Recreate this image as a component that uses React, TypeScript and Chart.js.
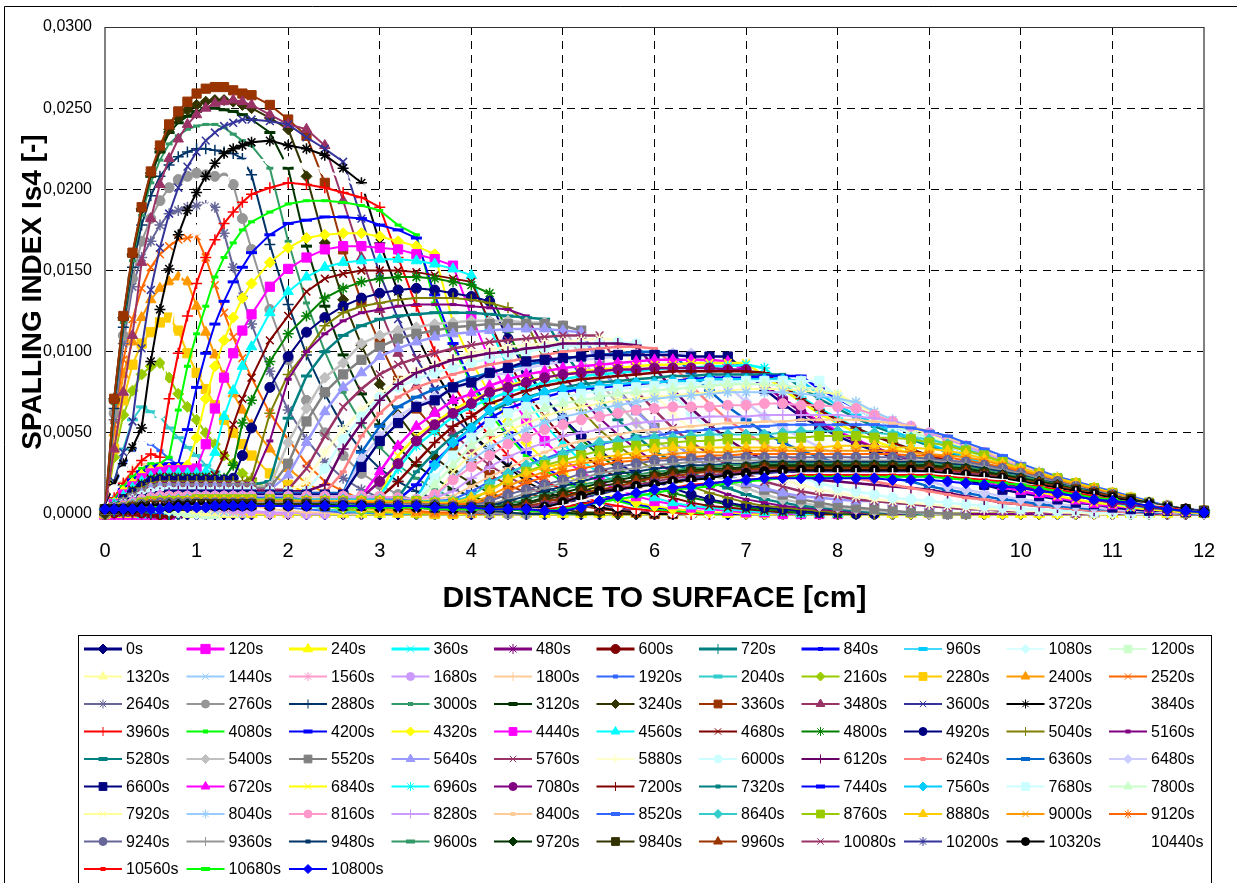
import React, { useEffect, useRef } from "react";
import { Chart, registerables } from "chart.js";
import { drawPoint } from "chart.js/helpers";

Chart.register(...registerables);

const xPositions = [0,0.1,0.2,0.3,0.4,0.5,0.6,0.7,0.8,0.9,1,1.1,1.2,1.3,1.4,1.5,
 1.6,1.8,2,2.2,2.4,2.6,2.8,3,3.2,3.4,3.6,3.8,4,4.2,4.4,4.6,4.8,
 5,5.2,5.4,5.6,5.8,6,6.2,6.4,6.6,6.8,7,7.2,7.4,7.6,7.8,8,
 8.2,8.4,8.6,8.8,9,9.2,9.4,9.6,9.8,10,10.2,10.4,10.6,10.8,11,11.2,11.4,11.6,11.8,12];

const xTicks = [0,1,2,3,4,5,6,7,8,9,10,11,12];
const yTicks = [0,0.005,0.01,0.015,0.02,0.025,0.03];

// values in units of 0.0001
const v0 = [0,0,0,0,0,0,0,0,0,0,0,0,0,0,0,0, 0,0,0,0,0,0,0,0,0,0,0,0,0,0,0,0,0, 0,0,0,0,0,0,0,0,0,0,0,0,0,0,0,0, 0,0,0,0,0,0,0,0,0,0,0,0,0,0,0,0,0,0,0,0];
const v120 = [0,0,0,0,0,0,0,0];
const v240 = [0,0,0,0,0,0,0,0,0,0,0,0,0,0,0,0, 0,0,0,0,0,0,0,0,0,0,0,0,0,0,0,0,0, 0,0,0,0,0,0,0,0,0,0,0,0,0,0,0,0, 0,0,0,0,0,0,0,0,0,0,0,0,0,0,0,0,0,0,0,0];
const v360 = [0,1,1,1,0,0,0,0,0];
const v480 = [0,1,1,1,1,0,0,0,0];
const v600 = [0,1,2,2,1,1,0,0];
const v720 = [0,2,2,3,2,1,1,0,0];
const v840 = [0,2,3,3,3,2,1,1,0,0];
const v960 = [0,2,4,4,4,3,2,1,1,0,0];
const v1080 = [0,3,4,5,5,4,3,2,1,1,0,0];
const v1200 = [0,3,5,6,6,5,4,3,2,1,1,0,0];
const v1320 = [0,4,6,8,8,7,6,5,4,3,2,1,1,0,0];
const v1440 = [0,5,8,10,10,10,8,7,6,5,4,3,2,1,1,0];
const v1560 = [0,6,10,13,14,13,12,10,8,7,6,5,4,3,2,1,1,0,0];
const v1680 = [0,8,14,18,20,19,17,15,13,11,9,8,6,5,4,3,2,1,1,0,0];
const v1800 = [0,11,20,27,31,28,25,22,19,16,14,12,10,8,7,6,5,3,2,1,1,0,0];
const v1920 = [0,15,29,38,44,43,39,34,30,26,22,19,16,14,12,10,8,6,4,3,2,1,1,0,0];
const v2040 = [0,20,40,58,66,63,60,53,47,41,36,30,26,22,19,16,14,10,7,5,3,2,1,1,0,0];
const v2160 = [0,35,61,76,86,91,93,84,74,66,58,50,43,36,31,25,21,15,11,8,5,3,2,1,1,0,0];
const v2280 = [0,40,70,92,105,112,118,121,113,99,87,77,67,58,50,43,36,25,18,13,9,6,4,2,1,1,0,0];
const v2400 = [0,50,86,106,121,132,139,143,146,143,128,112,98,85,74,64,55,40,28,19,13,8,5,3,2,1,0,0];
const v2520 = [0,55,95,120,139,152,160,165,169,170,171,158,141,124,109,96,84,62,46,31,20,14,9,6,4,2,1,1,0,0];
const v2640 = [0,58,105,140,158,168,178,185,187,189,190,190,189,173,152,134,117,88,64,46,32,22,15,10,7,4,3,2,1,0,0];
const v2760 = [0,62,110,145,168,182,193,201,206,208,210,209,208,207,203,182,163,126,95,70,50,36,25,18,12,8,5,3,2,1,0,0];
const v2880 = [0,65,115,152,178,196,208,215,220,223,225,225,224,223,222,219,209,166,129,98,74,54,39,28,20,14,9,6,4,2,1,0,0];
const v3000 = [0,68,118,156,184,204,218,228,233,237,239,240,240,238,234,230,227,213,168,130,100,75,56,41,30,22,15,10,7,5,3,2,1,0,0];
const v3120 = [0,70,120,159,187,208,223,235,241,245,248,250,250,249,248,246,243,235,213,165,128,98,74,55,41,30,22,15,11,7,5,3,2,1,0,0];
const v3240 = [0,71,121,160,188,210,225,237,244,249,252,254,255,255,254,252,250,244,237,208,167,132,104,80,61,46,35,26,19,13,9,6,4,3,1,1,0,0];
const v3360 = [3,71,122,161,189,211,227,240,248,254,259,262,263,263,261,259,258,252,243,233,204,163,131,105,82,65,52,40,31,24,18,13,10,7,5,3,2,1,0,0];
const v3480 = [3,40,75,110,155,182,203,219,231,240,246,250,253,254,255,254,252,246,240,237,227,193,158,126,99,79,63,50,39,30,23,17,12,9,6,4,3,2,1,0,0];
const v3600 = [3,20,38,57,102,138,164,185,201,214,223,230,235,239,241,243,243,242,240,232,225,217,182,148,120,96,77,61,49,38,30,23,17,12,9,6,4,3,2,1,0,0];
const v3720 = [3,18,31,41,53,94,126,151,172,187,198,208,216,222,225,227,229,230,227,225,221,213,204,167,137,110,88,70,50,39,29,20,14,10,7,4,2,1,0,0];
const v3840 = [3,15,26,35,42,46,62,110,140,160,175,188,197,205,210,215,218,218,217,215,212,207,200,192,160,125,100,80,62,48,37,28,21,15,11,7,5,3,2,1,0,0];
const v3960 = [3,10,19,26,33,37,35,71,99,122,142,158,169,179,186,192,197,201,204,203,201,198,195,189,158,128,100,80,62,48,36,27,20,15,11,7,5,3,2,1,0,0];
const v4080 = [3,9,17,23,28,31,31,35,64,91,111,128,146,158,167,175,180,186,191,193,193,192,190,187,178,172,130,103,80,62,48,36,27,20,15,11,8,5,3,2,1,0,0];
const v4200 = [3,8,15,21,26,29,30,31,31,52,78,99,117,131,143,152,161,172,179,181,183,183,182,178,175,170,135,105,82,65,50,38,29,22,16,12,9,6,4,3,2,1,0,0];
const v4320 = [3,7,14,19,24,27,28,28,28,30,47,71,91,107,121,133, 142,155,164,170,172,173,173,171,168,165,160,118,94,74,57,44,33, 25,19,14,10,7,5,3,2,1,1,0,0,0,0,0,0, 0,0,0,0,0,0,0,0,0,0,0,0,0,0,0,0,0,0,0,0];
const v4440 = [3,6,12,17,22,25,26,27,27,27,28,43,65,84,99,113, 123,140,151,158,163,165,165,164,163,160,157,153,122,95,74,58,45, 34,26,20,15,11,8,6,4,3,2,1,1,0,0,0,0];
const v4560 = [3,6,11,16,20,23,24,25,25,25,25,26,38,60,76,91, 103,124,137,146,152,155,156,157,157,156,154,151,147,115,90,71,55, 43,33,25,19,14,10,7,5,4,3,2,1,1,0,0,0];
const v4680 = [3,5,10,15,19,22,23,23,23,23,23,23,24,36,55,71, 84,107,122,137,145,148,150,150,150,149,147,145,143,118,94,75,60, 47,37,29,22,17,13,10,7,5,4,3,2,1,1,0,0];
const v4800 = [3,5,9,14,18,21,22,22,22,22,22,22,22,22,30,56, 70,94,111,122,133,139,143,145,146,146,145,143,141,136,112,90,72, 58,46,36,28,22,17,13,10,8,6,4,3,2,1,1,0,0];
const v4920 = [3,4,9,13,17,20,21,21,21,21,21,21,21,21,22,36, 53,78,97,112,121,128,133,136,138,139,138,136,134,131,108,88,72, 59,48,39,31,25,20,16,12,9,7,5,4,3,2,1,1, 0,0];
const v5040 = [3,4,8,12,16,19,20,20,20,20,20,20,20,20,20,20, 22,62,86,100,116,124,128,130,132,133,133,133,132,130,127,118,95, 78,64,52,42,34,27,21,17,13,10,7,5,4,3,2,1, 1,0,0];
const v5160 = [3,4,8,12,15,18,19,19,19,19,19,19,19,19,19,19, 19,45,83,100,111,119,124,126,128,129,129,129,128,127,126,122,102, 86,71,59,49,40,32,26,21,16,12,9,7,5,4,3,2, 1,1,0,0,0,0,0,0,0,0,0,0,0,0,0,0,0,0,0,0];
const v5280 = [3,4,7,11,14,17,18,18,18,18,18,18,18,18,18,18, 18,20,59,85,100,110,116,120,122,123,124,124,124,123,122,121,120, 101,85,71,58,48,39,32,26,20,16,12,9,7,5,4, 3,2,1,1,0,0];
const v5400 = [3,4,7,10,13,16,17,17,17,17,17,17,17,17,17,17, 17,17,44,65,84,93,105,110,113,115,117,118,119,119,119,118,118, 116,96,81,68,56,46,38,31,25,20,16,12,9,7,5, 4,3,2,1,1,0,0];
const v5520 = [3,4,7,10,13,15,16,16,16,16,16,16,16,16,16,16, 16,16,31,57,75,86,95,103,108,111,113,115,116,117,117,117,117, 116,113,92,77,64,53,44,36,29,24,19,15,12,9,7,5, 4,3,2,1,1,0,0];
const v5640 = [3,4,6,9,12,15,16,16,16,16,16,16,16,16,15,15, 15,15,24,44,63,78,87,97,102,106,109,111,112,113,114,114,114, 113,112,91,76,63,53,44,36,30,24,19,16,13,11,10,9, 8,8,7,6,5,4,3,3,2,2,1,1,0,0];
const v5760 = [3,3,6,9,12,14,15,15,15,15,15,15,15,15,15,15, 15,15,15,28,48,66,77,86,92,96,99,102,104,106,107,108,109, 110,110,110,92,76,64,53,44,37,30,25,20,17,14,12,11, 9,8,7,6,5,4,3,3,2,2,1,1,0,0];
const v5880 = [3,3,6,9,11,13,14,14,14,14,14,14,14,14,14,14, 14,14,14,20,38,52,64,74,82,88,92,96,99,101,103,104,105, 106,107,108,107,88,74,62,52,43,36,30,25,21,18,15,13, 11,9,8,7,6,5,4,3,3,2,2,1,1,0,0];
const v6000 = [3,3,6,8,11,13,14,14,14,14,14,14,14,14,14,14, 14,14,14,14,28,46,60,72,78,83,87,90,93,96,98,100,102, 103,104,105,106,105,88,74,62,52,44,37,31,26,22,19,16, 14,12,10,9,8,7,6,5,4,3,3,2,2,1,1,0,0];
const v6120 = [3,3,6,8,10,12,13,13,14,14,14,14,14,14,14,14, 14,14,14,14,18,40,56,70,80,87,91,95,97,99,100,102,103, 105,105,105,105,104,90,77,65,55,46,39,33,28,24,21,20, 19,18,17,16,15,13,11,9,7,6,5,4,3,2,2,1,1,0,0,0];
const v6240 = [3,3,5,8,10,12,13,13,13,13,13,13,13,13,13,13, 13,13,13,13,13,26,48,62,72,78,82,86,89,92,94,96,98, 100,101,102,103,103,102,92,79,68,58,50,43,37,32,28,25, 22,20,18,16,14,12,10,9,7,6,5,4,3,2,2,1,1,0,0,0];
const v6360 = [3,3,5,7,10,11,12,12,12,12,13,13,13,13,13,13, 13,13,13,13,13,13,38,54,66,72,77,80,84,87,90,92,94, 96,97,98,99,100,100,99,87,76,66,58,50,44,39,35,31, 28,25,22,20,17,15,13,11,9,8,6,5,4,3,3,2,1,1,0,0];
const v6480 = [3,3,5,7,9,11,12,12,12,12,12,12,12,12,12,12, 12,12,12,12,12,12,34,48,60,67,72,77,81,85,87,90,92, 94,95,96,97,98,98,99,99,90,79,69,60,53,47,41,37, 33,29,26,23,20,17,15,13,11,9,8,6,5,4,3,2,2,1,1,0];
const v6600 = [3,3,5,7,9,10,11,12,12,12,12,12,12,12,12,12, 12,12,12,12,12,12,29,45,56,66,70,78,81,87,90,94,95, 96,97,98,98,98,98,98,97,97,97,88,77,68,60,54,48, 43,39,35,31,27,24,21,18,15,13,11,9,7,6,4,3,2,2,1,1];
const v6720 = [3,3,5,7,8,10,11,11,11,11,11,11,11,11,11,11, 11,11,11,11,11,11,11,26,42,54,62,70,74,79,83,86,88, 90,91,92,93,94,95,95,95,95,94,88,79,71,64,57,51, 46,41,37,33,29,26,23,20,17,14,12,10,8,6,5,4,3,2,1,1];
const v6840 = [3,3,5,6,8,10,10,11,11,11,11,11,11,11,11,11, 11,11,11,11,11,11,11,11,36,48,56,64,70,75,79,82,84, 86,88,89,90,91,92,92,93,93,93,93,85,77,69,62,56, 50,45,41,37,33,29,26,22,19,16,14,11,9,7,6,4,3,2,1,1];
const v6960 = [3,3,5,6,8,9,10,10,10,11,11,11,11,11,11,11, 11,11,11,11,11,11,11,11,28,42,51,60,66,71,75,78,81, 83,85,86,87,88,89,90,90,91,91,92,90,80,72,65,59, 53,48,44,40,36,32,28,25,22,19,16,13,11,9,7,5,4,3,2,1];
const v7080 = [3,3,5,6,8,9,10,10,10,10,10,10,10,10,10,10, 10,10,10,10,10,10,10,20,31,45,55,62,68,75,78,81,84, 86,87,88,89,89,90,90,90,90,89,89,80,71,63,56,50, 45,41,37,33,30,27,24,22,19,17,15,13,11,9,7,6,4,3,2,1];
const v7200 = [3,3,4,6,7,9,9,10,10,10,10,10,10,10,10,10, 10,10,10,10,10,10,10,10,20,32,44,54,60,68,72,76,79, 81,83,84,85,86,87,88,88,88,88,88,87,79,71,64,58, 53,48,44,40,36,33,30,27,24,21,18,15,13,11,9,7,5,3,2,1];
const v7320 = [3,3,4,6,7,8,9,9,9,10,10,10,10,10,10,10, 10,10,10,10,10,10,10,10,10,26,38,48,55,63,68,72,75, 78,80,81,82,83,84,85,85,86,86,86,86,86,78,71,65, 59,54,50,46,42,38,35,31,28,25,22,19,16,13,11,8,6,4,2,1];
const v7440 = [3,3,4,5,7,8,9,9,9,9,9,9,9,9,9,9, 9,9,9,9,9,9,9,9,9,18,32,43,50,59,65,69,72, 75,77,78,79,80,81,82,83,84,84,84,85,85,85,77,71, 65,59,54,50,46,42,38,35,31,28,24,21,18,15,12,9,6,4,3,2];
const v7560 = [3,3,4,5,7,8,8,9,9,9,9,9,9,9,9,9, 9,9,9,9,9,9,9,9,9,9,30,44,53,64,70,71,75, 77,78,79,80,81,81,82,82,83,83,83,83,83,82,74,67, 61,56,51,47,43,39,35,31,28,25,22,19,16,14,12,9,7,5,3,2];
const v7680 = [3,3,4,5,6,7,8,8,9,9,9,9,9,9,9,9, 9,9,9,9,9,9,9,9,9,9,22,36,47,56,62,66,70, 72,74,76,77,78,79,80,80,81,81,82,82,82,82,82,72, 65,59,54,50,46,42,38,34,30,27,24,20,17,15,12,9,7,5,3,2];
const v7800 = [3,3,4,5,6,7,8,8,8,8,8,8,8,8,8,8, 8,8,8,8,8,8,8,8,8,8,18,30,42,50,56,61,65, 68,70,72,74,75,76,77,78,79,80,80,80,79,78,77,73, 66,60,55,51,47,43,39,35,31,28,25,21,18,15,12,10,7,5,3,2];
const v7920 = [3,3,4,5,6,7,7,8,8,8,8,8,8,8,8,8, 8,8,8,8,8,8,8,8,8,8,10,26,37,45,51,56,60, 64,66,68,70,71,72,73,74,75,76,77,77,77,76,75,74, 68,62,57,53,49,45,40,36,32,29,26,22,19,16,13,10,7,5,3,2];
const v8040 = [3,3,4,5,6,6,7,7,8,8,8,8,8,8,8,8, 8,8,8,8,8,8,8,8,8,8,9,22,33,41,47,52,56, 60,62,65,67,69,71,72,73,74,75,75,75,75,74,73,71, 69,63,58,54,50,46,42,38,34,30,26,23,19,16,13,10,7,5,3,2];
const v8160 = [3,3,5,7,9,10,11,11,11,11,11,11,11,11,11,11, 11,11,11,11,11,11,11,11,10,9,12,21,29,36,43,47,52, 55,58,60,62,64,65,66,66,66,67,67,68,68,67,67,66, 65,61,57,54,50,46,42,38,33,29,25,22,19,16,13,10,7,5,3,2];
const v8280 = [3,3,5,7,9,10,10,10,10,11,11,11,11,11,11,11, 11,11,11,11,10,10,10,10,9,9,10,14,22,29,35,40,44, 48,50,52,54,56,57,58,59,60,60,60,61,61,61,61,61, 60,59,57,54,50,46,42,37,33,29,25,21,18,15,12,9,7,5,3,2];
const v8400 = [3,3,5,6,8,9,10,10,10,10,10,10,10,10,10,10, 10,10,10,10,10,9,9,9,9,9,9,11,17,23,28,34,38, 42,45,47,49,51,52,53,54,55,56,56,57,57,58,58,58, 58,57,56,54,51,47,43,39,34,30,26,22,19,16,13,10,7,5,3,2];
const v8520 = [3,3,4,6,8,9,9,9,9,10,10,10,10,10,10,10, 10,10,10,9,9,9,9,9,9,8,8,9,14,20,25,30,34, 38,41,43,45,47,48,50,51,52,53,54,54,55,55,55,55, 55,55,54,53,51,48,44,40,36,31,27,23,20,17,14,11,8,5,3,2];
const v8640 = [3,3,4,6,7,8,9,9,9,9,9,9,9,9,9,9, 9,9,9,9,9,9,9,9,8,8,8,8,11,19,25,30,33, 37,41,44,45,46,47,47,48,49,49,49,49,50,51,51,51, 50,50,49,47,46,43,40,36,32,27,24,21,18,15,12,9,7,5,3,2];
const v8760 = [3,3,4,5,7,8,8,8,8,8,9,9,9,9,9,9, 9,9,9,8,8,8,8,8,8,8,7,7,8,15,21,26,30, 33,36,39,41,42,43,44,45,45,46,46,46,47,47,48,48, 48,47,47,46,44,42,39,36,32,28,25,22,19,16,13,10,7,5,3,2];
const v8880 = [3,3,4,5,6,7,8,8,8,8,8,8,8,8,8,8, 8,8,8,8,8,8,8,8,7,7,7,7,10,14,21,25,29, 31,33,35,36,38,40,41,41,41,41,41,41,41,41,41,42, 42,42,41,41,40,39,37,34,31,28,25,22,19,16,13,10,7,5,3,2];
const v9000 = [3,3,4,5,6,7,7,7,7,8,8,8,8,8,8,8, 8,8,8,8,8,7,7,7,7,7,6,6,7,11,17,22,26, 29,31,33,34,35,36,37,38,38,38,39,39,39,39,39,39, 39,39,39,38,37,36,35,33,30,27,24,21,18,15,13,10,7,5,3,2];
const v9120 = [3,3,4,5,6,7,7,7,7,7,7,7,7,7,7,7, 7,7,7,7,7,7,7,7,6,6,6,6,6,9,14,19,23, 26,28,30,32,33,34,35,35,36,36,37,37,37,37,37,37, 37,37,37,36,36,35,33,31,29,26,23,20,17,15,12,9,7,5,3,2];
const v9240 = [3,3,4,5,6,6,7,7,7,7,7,7,7,7,7,7, 7,7,7,7,7,7,6,6,6,6,6,5,5,8,12,15,18, 21,25,27,29,31,33,33,34,34,35,35,35,35,35,35,35, 35,35,35,35,34,33,32,30,28,25,23,20,17,14,12,9,7,5,3,2];
const v9360 = [3,3,4,5,5,6,6,6,7,7,7,7,7,7,7,7, 7,7,7,6,6,6,6,6,6,5,5,5,5,6,9,13,16, 19,22,25,27,28,30,31,32,32,33,33,33,33,33,33,33, 33,33,33,33,33,32,31,29,27,25,22,19,17,14,12,9,7,5,3,2];
const v9480 = [3,3,3,4,5,6,6,6,6,6,6,6,6,6,6,6, 6,6,6,6,6,6,6,6,5,5,5,5,5,5,8,11,14, 17,20,23,25,26,28,29,30,30,31,31,32,32,32,32,32, 32,32,32,32,32,31,30,28,26,24,21,19,16,14,11,9,7,5,3,2];
const v9600 = [3,3,3,4,5,5,6,6,6,6,6,6,6,6,6,6, 6,6,6,6,6,6,5,5,5,5,5,5,4,4,6,9,12, 15,18,20,23,24,26,27,28,29,30,30,31,31,31,31,31, 31,31,31,31,31,30,29,27,25,23,21,18,16,13,11,9,7,4,3,2];
const v9720 = [3,3,3,4,5,5,5,6,6,6,6,6,6,6,6,6, 6,6,6,6,6,5,5,5,5,5,5,4,4,4,5,7,10, 13,16,19,21,23,24,26,27,28,28,29,30,30,30,30,30, 30,30,30,30,30,29,28,26,24,22,20,18,15,13,11,9,7,4,3,2];
const v9840 = [3,3,3,4,4,5,5,5,5,5,6,6,6,6,6,6, 6,6,6,6,5,5,5,5,5,5,4,4,4,4,4,6,9, 11,14,17,19,21,23,25,26,27,27,28,29,29,29,29,29, 29,29,29,29,29,28,27,25,23,21,19,17,15,13,11,9,6,4,3,2];
const v9960 = [3,3,3,4,4,5,5,5,5,5,5,5,5,5,5,5, 5,5,5,5,5,5,5,5,5,5,4,4,4,3,4,5,7, 10,13,15,17,20,22,23,25,26,26,27,28,28,28,28,28, 28,28,28,28,28,27,26,24,23,21,19,17,15,13,11,8,6,4,3,2];
const v10080 = [3,3,3,3,4,4,5,5,5,5,5,5,5,5,5,5, 5,5,5,5,5,5,5,5,5,4,4,4,3,3,3,4,6, 8,11,14,16,18,20,22,23,24,25,26,27,27,27,27,27, 27,27,27,27,27,26,25,24,22,20,18,16,14,12,10,8,6,4,3,2];
const v10200 = [3,3,3,3,4,4,4,5,5,5,5,5,5,5,5,5, 5,5,5,5,5,5,5,5,4,4,4,4,3,3,3,3,5, 7,10,12,15,17,19,20,22,23,24,25,25,26,26,26,26, 26,26,26,26,26,25,24,23,21,20,18,16,14,12,10,8,6,4,3,2];
const v10320 = [3,3,3,3,4,4,4,4,5,5,5,5,5,5,5,5, 5,5,5,5,5,5,5,4,4,4,4,3,3,3,3,3,4, 7,11,14,15,17,18,20,21,22,24,25,26,27,27,27,27, 27,27,27,27,26,25,24,23,22,20,18,16,14,12,10,8,6,4,3,1];
const v10440 = [3,3,3,3,3,4,4,4,4,4,5,5,5,5,5,5, 5,5,5,5,5,4,4,4,4,4,4,3,3,3,3,3,3, 5,8,11,13,15,16,18,19,20,21,22,23,24,25,25,25, 25,25,25,25,25,24,23,22,21,19,17,15,13,11,9,7,6,4,2,1];
const v10560 = [3,3,3,3,3,4,4,4,4,4,4,5,5,5,5,5, 5,5,5,5,5,4,4,4,4,4,3,3,3,3,3,2,3, 4,6,8,11,13,15,16,18,19,20,21,22,23,24,24,24, 24,24,24,24,24,23,22,21,20,18,17,15,13,11,9,7,5,4,2,1];
const v10680 = [3,3,3,3,3,3,4,4,4,4,4,4,5,5,5,5, 5,5,5,5,5,4,4,4,4,4,3,3,3,3,3,2,2, 3,5,7,9,11,13,15,16,17,19,20,21,22,23,23,23, 23,23,23,23,23,22,21,20,19,18,16,14,12,10,9,7,5,3,2,1];
const v10800 = [3,3,3,3,3,3,3,4,4,4,4,4,5,5,5,5, 5,5,5,5,5,5,5,5,5,5,4,4,4,3,3,3,2, 2,4,8,11,13,15,16,17,19,20,21,22,22,22,22,22, 22,22,21,21,21,20,19,18,17,16,14,13,11,9,8,7,5,3,2,1];

const seriesValues = [v0,v120,v240,v360,v480,v600,v720,v840,v960,v1080,v1200,v1320,v1440,v1560,v1680,v1800,v1920,v2040,v2160,v2280,v2400,v2520,v2640,v2760,v2880,v3000,v3120,v3240,v3360,v3480,v3600,v3720,v3840,v3960,v4080,v4200,v4320,v4440,v4560,v4680,v4800,v4920,v5040,v5160,v5280,v5400,v5520,v5640,v5760,v5880,v6000,v6120,v6240,v6360,v6480,v6600,v6720,v6840,v6960,v7080,v7200,v7320,v7440,v7560,v7680,v7800,v7920,v8040,v8160,v8280,v8400,v8520,v8640,v8760,v8880,v9000,v9120,v9240,v9360,v9480,v9600,v9720,v9840,v9960,v10080,v10200,v10320,v10440,v10560,v10680,v10800];

const seriesNames = ["0s","120s","240s","360s","480s","600s","720s","840s","960s","1080s","1200s","1320s","1440s","1560s","1680s","1800s","1920s","2040s","2160s","2280s","2400s","2520s","2640s","2760s","2880s","3000s","3120s","3240s","3360s","3480s","3600s","3720s","3840s","3960s","4080s","4200s","4320s","4440s","4560s","4680s","4800s","4920s","5040s","5160s","5280s","5400s","5520s","5640s","5760s","5880s","6000s","6120s","6240s","6360s","6480s","6600s","6720s","6840s","6960s","7080s","7200s","7320s","7440s","7560s","7680s","7800s","7920s","8040s","8160s","8280s","8400s","8520s","8640s","8760s","8880s","9000s","9120s","9240s","9360s","9480s","9600s","9720s","9840s","9960s","10080s","10200s","10320s","10440s","10560s","10680s","10800s"];

const palette = ["#000080","#FF00FF","#FFFF00","#00FFFF","#800080","#800000","#008080","#0000FF","#00CCFF","#CCFFFF","#CCFFCC","#FFFF99","#99CCFF","#FF99CC","#CC99FF","#FFCC99","#3366FF","#33CCCC","#99CC00","#FFCC00","#FF9900","#FF6600","#666699","#969696","#003366","#339966","#003300","#333300","#993300","#993366","#333399","#000000","#FFFFFF","#FF0000","#00FF00","#0000FF","#FFFF00","#FF00FF","#00FFFF","#800000","#008000","#000080","#808000","#800080","#008080","#C0C0C0","#808080","#9999FF","#993366","#FFFFCC","#CCFFFF","#660066","#FF8080","#0066CC","#CCCCFF"];
const markers = ["rectRot","rect","triangle","crossRot","star","circle","cross","line","line"];

const FONT = '"Liberation Sans", Arial, sans-serif';

function lineWidthOf(i: number) {
  if (i < 8) return 3;
  if (i < 11) return 1.5;
  if (i < 33) return 2;
  if (i < 44) return 2;
  if (i < 66) return 2.5;
  return 2;
}
function radiusOf(i: number) {
  const st = markers[i % 9];
  const big = i < 8;
  if (st === "rect") return big ? 7.5 : 6.5;
  if (st === "line") return i % 9 === 7 ? 3.5 : 5.5;
  if (st === "circle") return big ? 5.5 : 5;
  if (st === "triangle") return big ? 6.5 : 6;
  return big ? 6 : 5.5;
}
function markerWidthOf(i: number) {
  const st = markers[i % 9];
  if (st === "line") return 3;
  if (st === "crossRot" || st === "star" || st === "cross") return i < 8 ? 2 : 1.5;
  return 1;
}

const frame = {
  id: "frame",
  beforeDraw(chart: any) {
    const c = chart.ctx;
    c.save();
    c.fillStyle = "#fff";
    c.fillRect(0, 0, chart.width, chart.height);
    c.strokeStyle = "#000";
    c.lineWidth = 1;
    c.beginPath();
    c.moveTo(4.5, 883);
    c.lineTo(4.5, 6.5);
    c.lineTo(1237, 6.5);
    c.stroke();
    c.restore();
  },
  beforeDatasetsDraw(chart: any) {
    const c = chart.ctx;
    const a = chart.chartArea;
    c.save();
    c.strokeStyle = "#808080";
    c.lineWidth = 2;
    c.beginPath();
    c.moveTo(a.left, a.top);
    c.lineTo(a.left, a.bottom);
    c.moveTo(a.right, a.top);
    c.lineTo(a.right, a.bottom);
    c.moveTo(a.left, a.bottom);
    c.lineTo(a.right, a.bottom);
    c.stroke();
    c.strokeStyle = "#333";
    c.lineWidth = 1;
    c.beginPath();
    c.moveTo(a.left, a.top + 0.5);
    c.lineTo(a.right, a.top + 0.5);
    c.stroke();
    c.restore();
  },
  afterDraw(chart: any) {
    const c = chart.ctx;
    c.save();
    // rotated value-axis title
    c.translate(33, 292);
    c.rotate(-Math.PI / 2);
    c.font = `bold 28px ${FONT}`;
    c.fillStyle = "#000";
    c.textAlign = "center";
    c.textBaseline = "middle";
    c.fillText("SPALLING INDEX Is4 [-]", 0, 0);
    c.restore();

    // legend box
    c.save();
    c.strokeStyle = "#000";
    c.lineWidth = 1;
    c.strokeRect(78.5, 635.5, 1133, 260);
    c.font = `16px ${FONT}`;
    c.textBaseline = "middle";
    c.textAlign = "left";
    chart.data.datasets.forEach((d: any, i: number) => {
      const col = i % 11;
      const row = Math.floor(i / 11);
      const tx = 126 + col * 102.5;
      const y = 649 + row * 27.5;
      c.strokeStyle = d.borderColor;
      c.lineWidth = lineWidthOf(i) > 2 && i >= 8 ? 2 : lineWidthOf(i);
      c.beginPath();
      c.moveTo(tx - 42, y);
      c.lineTo(tx - 4, y);
      c.stroke();
      c.fillStyle = d.pointBackgroundColor;
      c.strokeStyle = d.pointBorderColor;
      const isDash = d.pointStyle === "line";
      c.lineWidth = isDash ? 4 : 1;
      drawPoint(c, { pointStyle: d.pointStyle, rotation: 0, radius: d.pointRadius - 1, borderWidth: isDash ? 4 : 1 }, tx - 23, y);
      c.fillStyle = "#000";
      c.fillText(d.label, tx, y + 1);
    });
    c.restore();
  },
};

export default function App() {
  const ref = useRef<HTMLCanvasElement | null>(null);
  useEffect(() => {
    const datasets = seriesValues.map((vals, i) => {
      const color = palette[i % palette.length];
      return {
        label: seriesNames[i],
        data: vals.map((v, k) => ({ x: xPositions[k], y: v / 10000 })),
        borderColor: color,
        backgroundColor: color,
        borderWidth: lineWidthOf(i),
        pointStyle: markers[i % 9],
        pointRadius: radiusOf(i),
        pointBackgroundColor: color,
        pointBorderColor: color,
        pointBorderWidth: markerWidthOf(i),
        tension: 0,
        clip: false,
        showLine: true,
        order: seriesValues.length - i,
      };
    });
    const chart = new Chart(ref.current as HTMLCanvasElement, {
      type: "scatter",
      data: { datasets },
      plugins: [frame],
      options: {
        animation: false,
        responsive: false,
        events: [],
        layout: { padding: { left: 0, right: 33, top: 27, bottom: 258 } },
        plugins: { legend: { display: false }, tooltip: { enabled: false } },
        scales: {
          x: {
            type: "linear",
            min: 0,
            max: 12,
            afterBuildTicks: (s: any) => { s.ticks = xTicks.map((value) => ({ value })); },
            afterFit: (s: any) => { s.height = 111; s.paddingRight = 0; s.paddingLeft = 0; },
            ticks: { color: "#000", font: { family: FONT, size: 20 }, padding: 25, maxRotation: 0, autoSkip: false, callback: (v: any) => String(v) },
            grid: { color: "#000", lineWidth: 1, drawTicks: false, tickBorderDash: [] },
            border: { display: false, dash: [8, 6] },
            title: { display: true, text: "DISTANCE TO SURFACE [cm]", color: "#000", font: { family: FONT, size: 30, weight: "bold" }, padding: { top: 0, bottom: 8 } },
          },
          y: {
            type: "linear",
            min: 0,
            max: 0.03,
            afterBuildTicks: (s: any) => { s.ticks = yTicks.map((value) => ({ value })); },
            afterFit: (s: any) => { s.width = 105; },
            ticks: { color: "#000", font: { family: FONT, size: 16 }, padding: 13, autoSkip: false, callback: (v: any) => Number(v).toFixed(4).replace(".", ",") },
            grid: { color: "#000", lineWidth: 1, drawTicks: false },
            border: { display: false, dash: [8, 6] },
          },
        },
      },
    } as any);
    return () => chart.destroy();
  }, []);
  return (
    <div style={{ position: "fixed", left: 0, top: 0, width: 1237, height: 883, background: "#fff" }}>
      <canvas ref={ref} width={1237} height={883} style={{ display: "block" }} />
    </div>
  );
}
